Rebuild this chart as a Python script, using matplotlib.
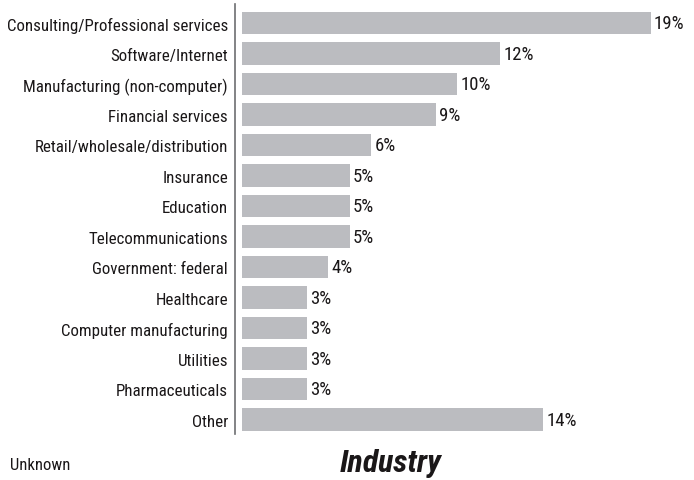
import matplotlib.pyplot as plt
from matplotlib import font_manager

industries = [
    "Consulting/Professional services", "Software/Internet",
    "Manufacturing (non-computer)", "Financial services",
    "Retail/wholesale/distribution", "Insurance", "Education",
    "Telecommunications", "Government: federal", "Healthcare",
    "Computer manufacturing", "Utilities", "Pharmaceuticals", "Other",
]
shares = [19, 12, 10, 9, 6, 5, 5, 5, 4, 3, 3, 3, 3, 14]

# pick a condensed face, like the original
names = {f.name for f in font_manager.fontManager.ttflist}
font = "DejaVu Sans"
for cand in ["Roboto Condensed", "Fira Sans Condensed", "Liberation Sans Narrow"]:
    if cand in names:
        font = cand
        break
plt.rcParams["font.family"] = [font, "DejaVu Sans"]

text_color = "#1a1718"
bar_color = "#bbbcc0"

fig = plt.figure(figsize=(6.94, 4.81), dpi=100)
ax = fig.add_axes([242 / 694, 46 / 481, 452 / 694, 430 / 481])

pos = list(range(len(industries)))
ax.barh(pos, shares, height=0.75, color=bar_color)
ax.set_xlim(0, 452 / 21.5)
ax.set_ylim(13.475, -0.623)

for p, v in zip(pos, shares):
    ax.annotate(f"{v}%", (v, p), xytext=(2.5, 0), textcoords="offset points",
                va="center", ha="left", fontsize=13.5, color=text_color)

ax.set_yticks(pos)
ax.set_yticklabels(industries)
ax.tick_params(axis="y", length=0, pad=5, labelsize=12.2, labelcolor=text_color)
ax.set_xticks([])

for s in ["top", "right", "bottom"]:
    ax.spines[s].set_visible(False)
ax.spines["left"].set_position(("outward", 5))
ax.spines["left"].set_color("#6d6e71")
ax.spines["left"].set_linewidth(1.2)

fig.text(391 / 694, 1 - 464 / 481, "Industry", fontsize=23, fontweight="bold",
         fontstyle="italic", ha="center", va="center", color=text_color)
fig.text(10 / 694, 1 - 466 / 481, "Unknown", fontsize=12, ha="left",
         va="center", color=text_color)

fig.savefig("out.png", dpi=100)
